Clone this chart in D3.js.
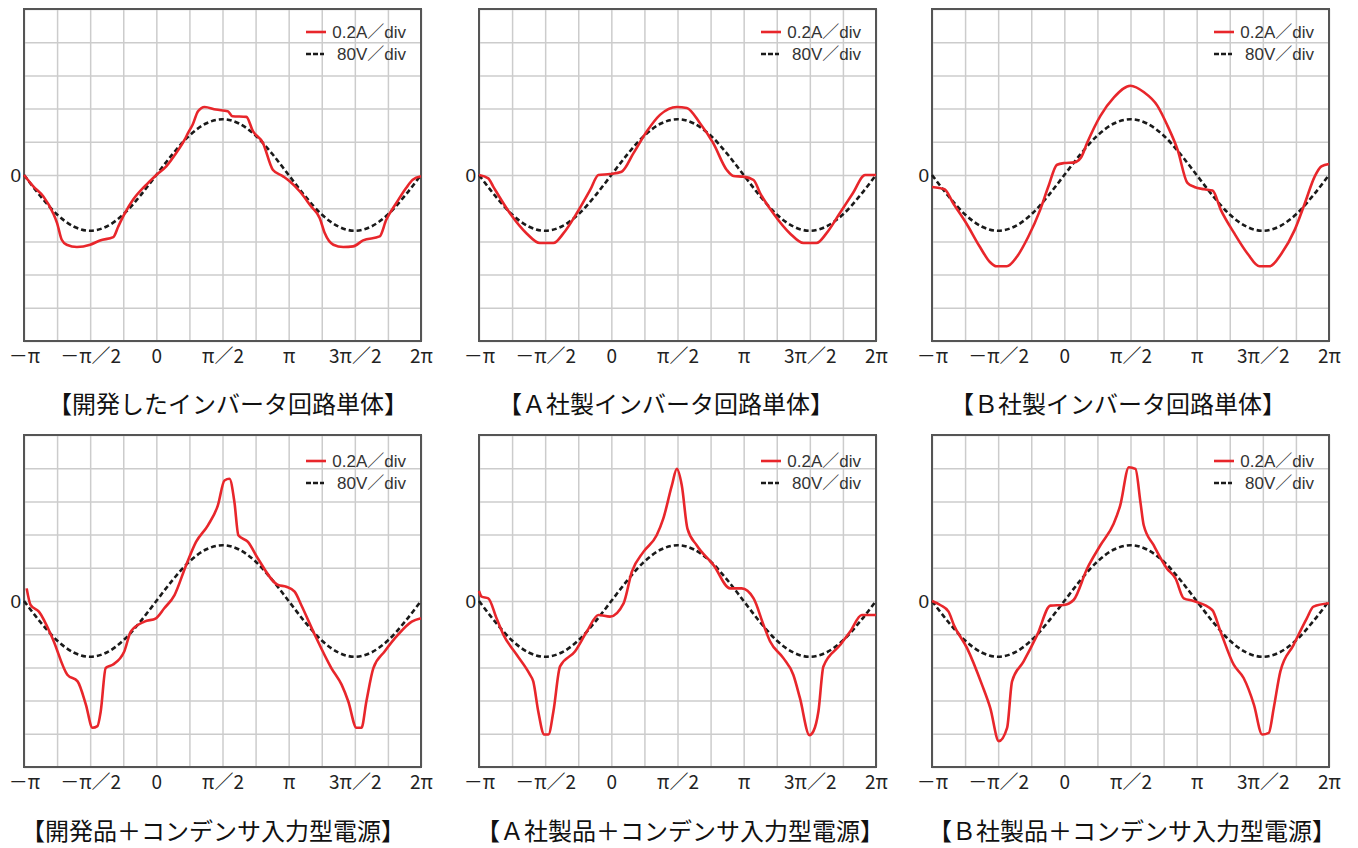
<!DOCTYPE html>
<html>
<head>
<meta charset="utf-8">
<script src="https://cdn.jsdelivr.net/npm/d3@7"></script>
<style>
  body { margin: 0; background: #fff; }
  svg { display: block; }
  .cap { font-family: "Noto Sans CJK JP", sans-serif; font-size: 24px; fill: #111; }
  .tick text { font-family: "Noto Sans CJK JP", sans-serif; font-size: 19px; fill: #222; }
  .leg { font-family: "Liberation Sans", "Noto Sans CJK JP", sans-serif; font-size: 17px; fill: #333; }
</style>
</head>
<body>
<svg id="chart" width="1358" height="848"></svg>
<script>
// phase is in steps of pi/4 (-4 = -pi ... 8 = 2pi), values in grid divisions

const phaseTicks = [-4, -2, 0, 2, 4, 6, 8];
const phaseLabels = ["－π", "－π／2", "0", "π／2", "π", "3π／2", "2π"];
const legendLabels = ["0.2A／div", "80V／div"];

const captions = [
  "【開発したインバータ回路単体】",
  "【Ａ社製インバータ回路単体】",
  "【Ｂ社製インバータ回路単体】",
  "【開発品＋コンデンサ入力型電源】",
  "【Ａ社製品＋コンデンサ入力型電源】",
  "【Ｂ社製品＋コンデンサ入力型電源】"
];

// voltage trace (80V/div), same in every panel
const voltage = [[-4, 0], [-3.5, -0.64], [-3, -1.19], [-2.5, -1.55], [-2, -1.68], [-1.5, -1.55],
  [-1, -1.19], [-0.5, -0.64], [0, 0], [0.5, 0.64], [1, 1.19], [1.5, 1.55], [2, 1.68],
  [2.5, 1.55], [3, 1.19], [3.5, 0.64], [4, 0], [4.5, -0.64], [5, -1.19], [5.5, -1.55],
  [6, -1.68], [6.5, -1.55], [7, -1.19], [7.5, -0.64], [8, 0]];

// current traces (0.2A/div)
const curDevInv = [[-4, 0], [-3.72, -0.34], [-3.42, -0.64], [-3.12, -1.15], [-3.0, -1.45], [-2.86, -1.95],
  [-2.71, -2.1], [-2.4, -2.17], [-2.0, -2.1], [-1.7, -1.97], [-1.3, -1.87], [-1.15, -1.55], [-0.95, -1.15],
  [-0.7, -0.74], [-0.4, -0.39], [-0.3, -0.29], [0, 0], [0.3, 0.26], [0.6, 0.66], [0.86, 1.07], [0.96, 1.27],
  [1.1, 1.52], [1.26, 1.92], [1.46, 2.05], [1.8, 1.97], [2.16, 1.92], [2.3, 1.77], [2.72, 1.75], [2.92, 1.32],
  [3.22, 0.97], [3.52, 0.16], [3.83, -0.04], [4.03, -0.19], [4.33, -0.49], [4.68, -0.95], [4.94, -1.3],
  [5.09, -1.75], [5.35, -2.1], [5.65, -2.17], [5.95, -2.15], [6.25, -1.97], [6.75, -1.85], [6.95, -1.35],
  [7.25, -0.85], [7.55, -0.39], [7.75, -0.14], [8, -0.04]];

const curAInv = [[-4, 0], [-3.72, -0.1], [-3.57, -0.35], [-3.06, -1.16], [-2.56, -1.76], [-2.16, -2.05],
  [-1.75, -2.05], [-1.45, -1.76], [-1.05, -1.16], [-0.64, -0.45], [-0.39, 0], [-0.04, 0.03], [0.31, 0.1],
  [0.67, 0.66], [1.07, 1.31], [1.47, 1.81], [1.98, 2.05], [2.28, 2.02], [2.68, 1.56], [3.08, 0.96],
  [3.49, 0.15], [3.69, -0.03], [3.99, -0.05], [4.3, -0.15], [4.5, -0.55], [4.9, -1.16], [5.4, -1.76],
  [5.81, -2.05], [6.2, -2.05], [6.5, -1.76], [6.9, -1.16], [7.3, -0.55], [7.67, 0], [8, 0]];

const curBInv = [[-4, -0.36], [-3.62, -0.43], [-3.36, -0.85], [-2.96, -1.46], [-2.55, -2.17], [-2.25, -2.62],
  [-2.05, -2.75], [-1.74, -2.75], [-1.44, -2.47], [-1.09, -1.86], [-0.73, -1.05], [-0.48, -0.34],
  [-0.22, 0.31], [-0.01, 0.36], [0.3, 0.38], [0.5, 0.52], [0.69, 0.97], [1.09, 1.78], [1.5, 2.34],
  [2.0, 2.69], [2.41, 2.49], [2.81, 2.09], [3.12, 1.48], [3.42, 0.77], [3.72, -0.24], [3.93, -0.36],
  [4.23, -0.43], [4.48, -0.47], [4.73, -1.05], [5.14, -1.76], [5.54, -2.37], [5.9, -2.75], [6.2, -2.75],
  [6.56, -2.37], [6.96, -1.66], [7.27, -0.85], [7.57, -0.04], [7.77, 0.26], [8, 0.33]];

const curDevCap = [[-3.92, 0.38], [-3.8, -0.12], [-3.55, -0.32], [-3.14, -1.12], [-2.69, -2.22], [-2.38, -2.42],
  [-2.13, -3.12], [-1.93, -3.82], [-1.78, -3.77], [-1.68, -3.32], [-1.53, -2.02], [-1.32, -1.92],
  [-0.97, -1.52], [-0.77, -0.92], [-0.36, -0.62], [-0.01, -0.52], [0.24, -0.22], [0.55, 0.18], [0.9, 1.08],
  [1.2, 1.78], [1.56, 2.28], [1.86, 2.88], [2.06, 3.63], [2.21, 3.68], [2.36, 2.98], [2.48, 1.98],
  [2.77, 1.78], [3.07, 1.28], [3.68, 0.48], [3.93, 0.43], [4.18, 0.28], [4.38, -0.12], [4.79, -1.02],
  [5.29, -2.02], [5.6, -2.52], [5.8, -3.02], [6.05, -3.82], [6.2, -3.82], [6.35, -3.02], [6.56, -2.02],
  [6.9, -1.52], [7.3, -1.02], [7.72, -0.62], [8, -0.52]];

const curACap = [[-4, 0.3], [-3.92, 0.13], [-3.72, 0.08], [-3.47, -0.52], [-3.26, -1.02], [-2.86, -1.62],
  [-2.46, -2.22], [-2.36, -2.42], [-2.21, -3.32], [-2.03, -4.02], [-1.9, -4.02], [-1.75, -3.32],
  [-1.55, -1.97], [-1.1, -1.52], [-0.74, -0.92], [-0.39, -0.42], [-0.04, -0.47], [0.37, -0.07],
  [0.62, 0.88], [0.97, 1.48], [1.37, 1.98], [1.57, 2.48], [1.83, 3.48], [1.98, 3.98], [2.13, 3.48],
  [2.3, 2.18], [2.58, 1.68], [3.09, 1.08], [3.59, 0.38], [3.94, 0.38], [4.3, 0.08], [4.6, -0.72],
  [4.8, -1.22], [5.2, -1.72], [5.5, -2.22], [5.7, -2.92], [5.99, -4.04], [6.11, -3.92], [6.26, -3.32],
  [6.41, -1.97], [6.92, -1.32], [7.22, -0.92], [7.57, -0.42], [8, -0.42]];

const curBCap = [[-4, 0], [-3.75, -0.12], [-3.5, -0.32], [-3.34, -0.72], [-2.94, -1.42], [-2.49, -2.52],
  [-2.24, -3.22], [-1.98, -4.22], [-1.73, -3.82], [-1.58, -2.42], [-1.23, -1.82], [-0.82, -1.02],
  [-0.42, -0.14], [-0.02, -0.12], [0.28, 0.03], [0.69, 0.98], [1.09, 1.68], [1.49, 2.33], [1.69, 2.88],
  [1.95, 4.03], [2.15, 3.98], [2.3, 2.98], [2.4, 2.28], [2.7, 1.68], [3.1, 0.98], [3.36, 0.68],
  [3.61, 0.08], [3.91, 0], [4.47, -0.27], [4.72, -0.92], [5.12, -1.92], [5.42, -2.32], [5.73, -3.12],
  [5.98, -4.02], [6.18, -3.97], [6.33, -3.22], [6.53, -2.12], [6.93, -1.32], [7.33, -0.52],
  [7.53, -0.17], [8, -0.07]];

const currents = [curDevInv, curAInv, curBInv, curDevCap, curACap, curBCap];

// layout
const svg = d3.select("#chart");
const panelW = 397, panelH = 332;
const lefts = [24, 479, 932];
const tops = [9, 435];
const capCx = [228, 666, 1118, 213, 680, 1132];
const capY = [413, 840];

const red = "#e8262b";

const xScale = d3.scaleLinear().domain([-4, 8]).range([0, panelW]);
const yScale = d3.scaleLinear().domain([-5, 5]).range([panelH, 0]);

const line = d3.line()
  .x(d => xScale(d[0]))
  .y(d => yScale(d[1]))
  .curve(d3.curveMonotoneX);

captions.forEach((cap, i) => {
  const col = i % 3, row = Math.floor(i / 3);
  const g = svg.append("g")
    .attr("transform", `translate(${lefts[col]},${tops[row]})`);

  // grid
  const xGrid = d3.axisBottom(xScale).tickValues(d3.range(-4, 9)).tickSize(-panelH).tickFormat("");
  const yGrid = d3.axisLeft(yScale).tickValues(d3.range(-5, 6)).tickSize(-panelW).tickFormat("");
  g.append("g").attr("transform", `translate(0,${panelH})`).call(xGrid)
    .call(s => s.select(".domain").remove())
    .selectAll("line").attr("stroke", "#cccccc").attr("stroke-width", 1.5);
  g.append("g").call(yGrid)
    .call(s => s.select(".domain").remove())
    .selectAll("line").attr("stroke", "#cccccc").attr("stroke-width", 1.5);

  // frame
  g.append("rect")
    .attr("width", panelW).attr("height", panelH)
    .attr("fill", "none").attr("stroke", "#555").attr("stroke-width", 2);

  // phase labels
  const xAxis = d3.axisBottom(xScale)
    .tickValues(phaseTicks)
    .tickFormat((d, k) => phaseLabels[k])
    .tickSize(0).tickPadding(8);
  g.append("g").attr("transform", `translate(0,${panelH})`).call(xAxis)
    .call(s => s.select(".domain").remove());

  // zero label
  g.append("text")
    .attr("x", -3).attr("y", yScale(0)).attr("dy", "0.35em")
    .attr("text-anchor", "end")
    .style("font-family", "'Liberation Sans', sans-serif").style("font-size", "19px").attr("fill", "#222")
    .text("0");

  // traces
  g.append("path").datum(voltage)
    .attr("d", line).attr("fill", "none")
    .attr("stroke", "#1a1a1a").attr("stroke-width", 2.6).attr("stroke-dasharray", "5,3");
  g.append("path").datum(currents[i])
    .attr("d", line).attr("fill", "none")
    .attr("stroke", red).attr("stroke-width", 2.6).attr("stroke-linejoin", "round");

  // legend
  const lg = g.append("g").attr("transform", `translate(${panelW - 15},${row ? 26 : 23})`);
  lg.append("line").attr("x1", -100).attr("x2", -80).attr("y1", 0).attr("y2", 0)
    .attr("stroke", red).attr("stroke-width", 2.6);
  lg.append("line").attr("x1", -100).attr("x2", -82).attr("y1", 22).attr("y2", 22)
    .attr("stroke", "#1a1a1a").attr("stroke-width", 2.6).attr("stroke-dasharray", "5,2");
  legendLabels.forEach((t, k) => {
    lg.append("text").attr("class", "leg")
      .attr("x", 0).attr("y", k * 22).attr("dy", "0.35em")
      .attr("text-anchor", "end").text(t);
  });

  // caption
  svg.append("text").attr("class", "cap")
    .attr("x", capCx[i]).attr("y", capY[row])
    .attr("text-anchor", "middle").text(cap);
});
</script>
</body>
</html>
